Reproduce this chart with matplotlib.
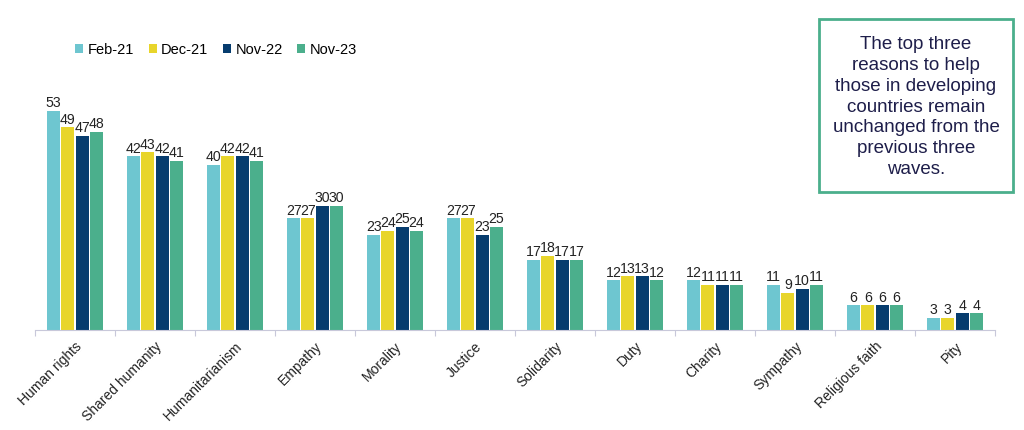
import numpy as np
import matplotlib
matplotlib.use("Agg")
import matplotlib.pyplot as plt

plt.rcParams["font.family"] = ["Liberation Sans", "DejaVu Sans"]

# 数据
categories = ["Human rights", "Shared humanity", "Humanitarianism", "Empathy", "Morality",
              "Justice", "Solidarity", "Duty", "Charity", "Sympathy", "Religious faith", "Pity"]
feb21 = [53, 42, 40, 27, 23, 27, 17, 12, 12, 11, 6, 3]
dec21 = [49, 43, 42, 27, 24, 27, 18, 13, 11, 9, 6, 3]
nov22 = [47, 42, 42, 30, 25, 23, 17, 13, 11, 10, 6, 4]
nov23 = [48, 41, 41, 30, 24, 25, 17, 12, 11, 11, 6, 4]
series_names = ["Feb-21", "Dec-21", "Nov-22", "Nov-23"]
colors = ["#6EC6D0", "#E8D52B", "#063C6E", "#4BAF8C"]

fig = plt.figure(figsize=(10.24, 4.31), dpi=100)
ax = fig.add_axes([35 / 1024, 100 / 431, 960 / 1024, 248 / 431])

x = np.arange(len(categories))
width = 0.165
step = 0.178
for i, (name, vals, c) in enumerate(zip(series_names, [feb21, dec21, nov22, nov23], colors)):
    pos = x + (i - 1.5) * step
    ax.bar(pos, vals, width=width, color=c, label=name)
    for p, v in zip(pos, vals):
        ax.text(p, v + 0.4, str(v), ha="center", va="bottom", fontsize=10.2, color="#222222")

ax.set_xlim(-0.5, len(categories) - 0.5)
ax.set_ylim(0, 60)
ax.set_yticks([])
for s in ["top", "right", "left"]:
    ax.spines[s].set_visible(False)
ax.spines["bottom"].set_color("#C8C8DA")

# 刻度在组之间
ax.set_xticks(np.arange(len(categories) + 1) - 0.5, minor=False)
ax.set_xticklabels([])
ax.tick_params(axis="x", length=4, color="#C8C8DA")
ax.set_xticks(x, minor=True)
ax.set_xticklabels(categories, minor=True, rotation=45, ha="right", rotation_mode="anchor",
                   fontsize=10, color="#222222")
ax.tick_params(axis="x", which="minor", length=0, pad=6)

ax.legend(loc="upper left", bbox_to_anchor=(68 / 1024, 1 - 36 / 431), bbox_transform=fig.transFigure,
          ncol=4, frameon=False, fontsize=10.5, handlelength=0.55, handleheight=0.55,
          handletextpad=0.3, columnspacing=1.0, borderpad=0)

fig.text(916 / 1024, 1 - 107 / 431, "The top three\nreasons to help\nthose in developing\ncountries remain\nunchanged from the\nprevious three\nwaves.",
         ha="center", va="center", fontsize=13.5, color="#1E1E4A", linespacing=1.3,
         transform=fig.transFigure)
box = plt.Rectangle((819 / 1024, 1 - 193 / 431), 194 / 1024, 173 / 431, transform=fig.transFigure,
                    fill=False, edgecolor="#4BAF8C", linewidth=2)
fig.patches.append(box)

plt.savefig("out.png", dpi=100)
